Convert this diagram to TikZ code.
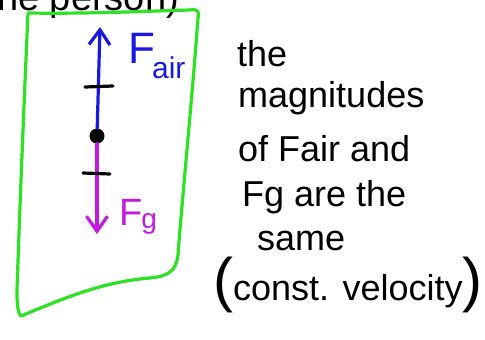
\documentclass[tikz,border=0pt]{standalone}
\usepackage{fontspec}
\setmainfont{Liberation Sans}
\usetikzlibrary{arrows.meta}
\definecolor{penblue}{RGB}{25,25,225}
\definecolor{penmag}{RGB}{195,25,225}
\definecolor{pengreen}{RGB}{45,225,35}
\newcommand\bigparen{\fontsize{60}{60}\selectfont}

\begin{document}
\begin{tikzpicture}[x=1pt,y=-1pt,pen/.style={line width=3.2pt,line cap=round,line join=round},force/.style={pen,#1,-{Straight Barb[length=15pt,width=21pt]}},hand/.style={font=\fontsize{36}{36}\selectfont,anchor=base west,inner sep=0pt},flabel/.style={anchor=base west,inner sep=0pt,text=#1,font=\fontsize{44}{44}\selectfont}]
\useasboundingbox (0,0) rectangle (485,340);
% heading cut off at the top
\node[anchor=base west,inner sep=0pt,font=\fontsize{38}{38}\selectfont] (head) at (-3,10) {he person)};
% the box
\draw[pen,pengreen] (28,13) .. controls (90,14) and (150,11) .. (190,10)
   .. controls (197,8) and (200,12) .. (198,18)
   .. controls (192,100) and (182,200) .. (178,255)
   .. controls (176,270) and (170,276) .. (150,278)
   .. controls (100,282) and (60,300) .. (21,316)
   .. controls (17,312) and (17,300) .. (17,290)
   .. controls (20,200) and (25,80) .. (28,13);
\node[circle,fill=black,inner sep=0pt,minimum size=15pt] (dot) at (97,136) {};
\coordinate (airtip) at (100,27);
\coordinate (gtip) at (97,234);
\draw[force=penblue] (dot) -- (airtip);
\draw[force=penmag] (dot) -- (gtip);
\draw[pen] (85,87) -- (113,86);
\draw[pen] (83,173) -- (110,174);
\node[flabel=penblue] (fair) at (128,63) {F\kern-3pt\raisebox{-15pt}{\fontsize{30}{30}\selectfont air}};
\node[flabel=penmag,font=\fontsize{38}{38}\selectfont] (fg) at (119,225) {F\kern-1pt\raisebox{-3pt}{\fontsize{28}{28}\selectfont g}};
% note on the right
\foreach \n/\x/\y/\t in {1/237/66/the,2/238/107/magnitudes,3/238/161/of Fair and,4/242/206/Fg are the,5/257/250/same} {
   \node[hand] (line\n) at (\x,\y) {\t};
}
\node[hand] (line6) at (213,300) {{\bigparen(}const. velocity{\bigparen)}};
\end{tikzpicture}
\end{document}
